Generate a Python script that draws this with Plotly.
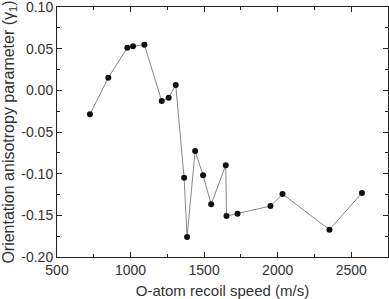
import plotly.graph_objects as go

speed = [724, 849, 978, 1017, 1094, 1212, 1259, 1307, 1364, 1384, 1439, 1493,
         1548, 1647, 1652, 1727, 1951, 2033, 2352, 2573]
gamma = [-0.0288, 0.0152, 0.0512, 0.0528, 0.0548, -0.0128, -0.0088, 0.0064,
         -0.1048, -0.176, -0.0728, -0.102, -0.1368, -0.090, -0.1508, -0.148,
         -0.1388, -0.1244, -0.1672, -0.1232]

fig = go.Figure()
fig.add_trace(go.Scatter(
    x=speed, y=gamma, mode="lines+markers",
    line=dict(color="#888888", width=1),
    marker=dict(color="#111111", size=6),
    showlegend=False,
))

axis_common = dict(
    showgrid=False, zeroline=False, showline=True, linecolor="#222222",
    linewidth=1, mirror="ticks", ticks="inside", ticklen=5, automargin=False,
    ticklabeloverflow="allow",
    tickcolor="#222222", tickfont=dict(family="Liberation Sans", size=14, color="#333333"),
)

fig.update_xaxes(
    range=[500, 2750], tickvals=[500, 1000, 1500, 2000, 2500],
    ticktext=["500", "1000", "1500", "2000", "2500"],
    minor=dict(dtick=250, ticks="inside", ticklen=3, tickcolor="#222222"),
    title=dict(text="O-atom recoil speed (m/s)", standoff=8,
               font=dict(family="Liberation Sans", size=15, color="#333333")),
    **axis_common,
)
fig.update_yaxes(
    range=[-0.20, 0.10], tickvals=[-0.20, -0.15, -0.10, -0.05, 0.0, 0.05, 0.10],
    ticktext=["-0.20", "-0.15", "-0.10", "-0.05", "0.00", "0.05", "0.10"],
    minor=dict(dtick=0.025, ticks="inside", ticklen=3, tickcolor="#222222"),
    title=dict(text="Orientation anisotropy parameter (γ<sub>1</sub>)", standoff=4,
               font=dict(family="Liberation Sans", size=16, color="#333333")),
    **axis_common,
)

fig.update_layout(
    width=389, height=299,
    margin=dict(l=57, r=1, t=7, b=42),
    plot_bgcolor="white", paper_bgcolor="white",
)

fig.write_html("out.html", config={"displayModeBar": False},
               post_script="document.body.style.margin='0';document.body.style.overflow='hidden';")
